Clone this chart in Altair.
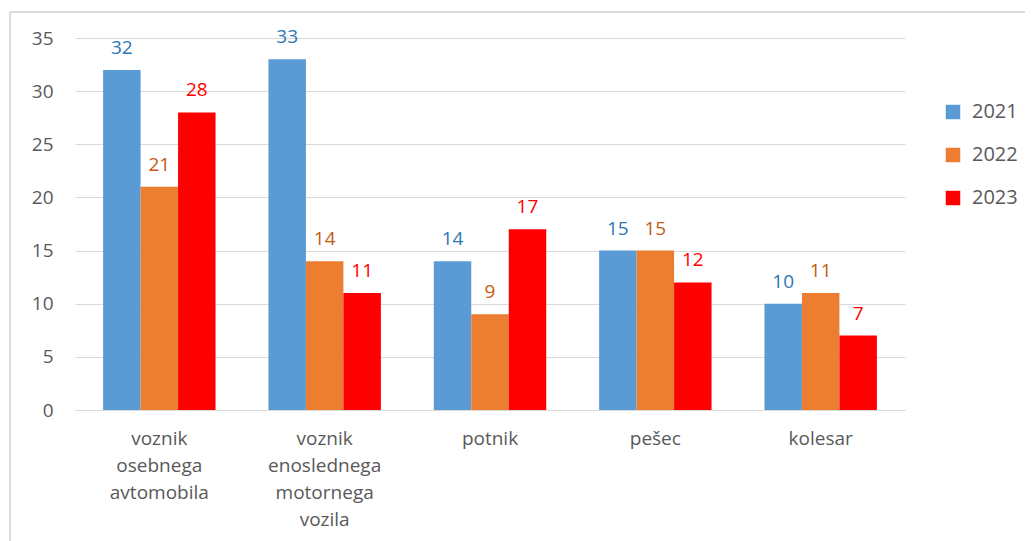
import altair as alt
import pandas as pd

categories = ["voznik osebnega avtomobila", "voznik enoslednega motornega vozila", "potnik", "pešec", "kolesar"]
years = ["2021", "2022", "2023"]
v2021 = [32, 33, 14, 15, 10]
v2022 = [21, 14, 9, 15, 11]
v2023 = [28, 11, 17, 12, 7]
label_lines = {
    "voznik osebnega avtomobila": "voznik|osebnega|avtomobila",
    "voznik enoslednega motornega vozila": "voznik|enoslednega|motornega|vozila",
}
bar_colors = ["#5B9BD5", "#ED7D31", "#FF0000"]
text_colors = ["#2E75B6", "#C55A11", "#FF0000"]

rows = []
for i, c in enumerate(categories):
    for y, vals in zip(years, [v2021, v2022, v2023]):
        rows.append({"kat": c, "leto": y, "v": vals[i]})
df = pd.DataFrame(rows)

FONT = "Open Sans"

lbl_expr = "split(" + " : ".join([f"datum.label == '{k}' ? '{v}'" for k, v in label_lines.items()]) + " : datum.label, '|')"

xenc = alt.X("kat:N", sort=categories, title=None,
             scale=alt.Scale(paddingInner=0.32, paddingOuter=0.17),
             axis=alt.Axis(labelAngle=0, labelExpr=lbl_expr, labelFontSize=19,
                           labelColor="#595959", labelFont=FONT, labelLineHeight=27,
                           labelPadding=19, ticks=False, domainColor="#d9d9d9",
                           labelBaseline="top"))
yenc = alt.Y("v:Q", title=None,
             scale=alt.Scale(domain=[0, 35]),
             axis=alt.Axis(values=[0, 5, 10, 15, 20, 25, 30, 35], labelFontSize=19,
                           labelColor="#595959", labelFont=FONT, labelPadding=22,
                           ticks=False, domain=False, gridColor="#d9d9d9"))

bars = alt.Chart(df).mark_bar().encode(
    x=xenc,
    xOffset=alt.XOffset("leto:N", sort=years),
    y=yenc,
    color=alt.Color("leto:N", sort=years,
                    scale=alt.Scale(domain=years, range=bar_colors),
                    legend=alt.Legend(title=None, orient="none", legendX=868, legendY=64,
                                      symbolType="square", symbolSize=210, symbolStrokeWidth=0,
                                      labelFontSize=20, labelColor="#595959", labelFont=FONT,
                                      rowPadding=23, labelOffset=9)),
)

texts = alt.Chart(df).mark_text(baseline="bottom", dy=-12, fontSize=19, font=FONT).encode(
    x=alt.X("kat:N", sort=categories),
    xOffset=alt.XOffset("leto:N", sort=years),
    y=alt.Y("v:Q"),
    text=alt.Text("v:Q"),
    color=alt.Color("leto:N", sort=years, scale=alt.Scale(domain=years, range=text_colors), legend=None),
)

frame = alt.Chart(pd.DataFrame({"a": [0]})).mark_rule(color="#d9d9d9", strokeWidth=2, clip=False).encode(
    x=alt.value(-65), y=alt.value(-26), x2=alt.value(1000), y2=alt.value(-26)
)
frame2 = alt.Chart(pd.DataFrame({"a": [0]})).mark_rule(color="#d9d9d9", strokeWidth=2, clip=False).encode(
    x=alt.value(-65), y=alt.value(-26), x2=alt.value(-65), y2=alt.value(520)
)

chart = alt.layer(bars, texts, frame, frame2).resolve_scale(color="independent").properties(
    width=830, height=372,
    autosize=alt.AutoSizeParams(type="none"),
    padding={"left": 67, "top": 30, "right": 120, "bottom": 131},
).configure_view(stroke=None)

chart.save("out.html", embed_options={"renderer": "svg", "actions": False})
